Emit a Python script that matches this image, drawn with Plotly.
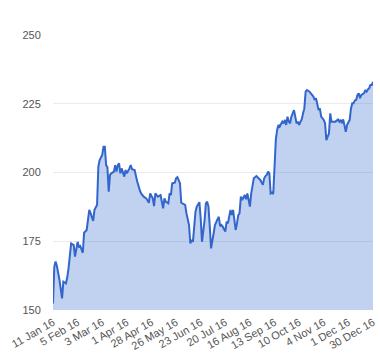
import plotly.graph_objects as go

# trading-day index of each sampled point (0 = 11 Jan 16, 247 = 30 Dec 16)
day = [0, 1, 2, 3, 5, 7, 8, 10, 11, 12, 14, 16, 17, 19, 20, 21, 23, 24, 26, 28,
       29, 31, 32, 34, 35, 36, 38, 39, 40, 41, 42, 43, 44, 45, 47, 48, 49, 50, 51, 52,
       53, 55, 56, 57, 59, 60, 61, 63, 65, 66, 67, 68, 70, 72, 73, 74, 75, 77, 78, 79,
       80, 81, 83, 84, 85, 86, 87, 89, 90, 91, 92, 94, 95, 96, 98, 99, 100, 102, 103, 105,
       106, 107, 108, 109, 110, 111, 113, 114, 115, 117, 118, 119, 120, 121, 122, 124, 125, 127, 128, 129,
       130, 131, 133, 134, 135, 137, 138, 139, 140, 141, 142, 143, 144, 145, 146, 148, 149, 150, 151, 152,
       153, 154, 155, 157, 158, 160, 162, 163, 164, 165, 166, 167, 168, 169, 170, 171, 172, 173, 174, 175,
       177, 178, 179, 180, 181, 182, 183, 184, 186, 187, 188, 189, 190, 191, 192, 193, 194, 195, 196, 198,
       199, 201, 202, 203, 205, 206, 207, 209, 210, 211, 212, 213, 214, 215, 217, 218, 220, 221, 222, 223,
       224, 225, 226, 227, 228, 229, 230, 231, 232, 233, 234, 235, 236, 237, 238, 240, 241, 242, 243, 244,
       245, 246, 247]

price = [152.4, 165.7, 167.6, 166.0, 160.9, 154.2, 160.3, 159.7, 161.9, 165.2, 174.2, 173.6, 169.4, 174.8, 173.0, 173.3, 170.8, 178.1, 179.1, 186.4,
         185.2, 182.4, 186.4, 188.2, 202.1, 204.5, 206.4, 209.4, 209.4, 202.7, 201.9, 193.0, 199.1, 199.7, 200.3, 202.7, 200.3, 202.7, 203.3, 199.7,
         201.5, 198.5, 200.9, 199.7, 201.5, 202.7, 201.2, 200.9, 196.7, 194.8, 193.6, 192.4, 191.2, 190.6, 190.0, 189.0, 192.4, 190.6, 187.8, 192.4,
         191.8, 191.2, 191.8, 189.4, 187.0, 190.6, 189.4, 188.8, 192.4, 191.8, 196.1, 196.3, 197.9, 198.3, 196.1, 189.0, 188.8, 188.2, 185.2, 180.9,
         174.2, 175.5, 174.8, 179.1, 185.8, 187.6, 189.2, 183.3, 174.8, 182.7, 188.8, 189.4, 187.6, 180.3, 172.4, 177.9, 180.9, 183.0, 183.9, 180.5,
         180.9, 180.3, 178.5, 182.1, 181.5, 186.4, 184.5, 186.4, 181.5, 179.1, 181.5, 184.5, 185.2, 191.2, 190.0, 191.8, 190.3, 192.4, 190.0, 187.6,
         192.4, 195.5, 197.9, 198.7, 198.3, 197.3, 195.5, 197.9, 198.7, 199.1, 200.3, 199.7, 192.4, 192.7, 192.2, 206.0, 212.0, 215.5, 217.3, 216.7,
         218.5, 217.9, 219.1, 217.3, 220.3, 218.5, 217.9, 220.3, 222.7, 220.3, 217.9, 218.5, 217.3, 218.5, 219.3, 221.5, 223.3, 229.4, 230.0, 229.4,
         228.8, 227.6, 226.4, 227.0, 222.7, 223.3, 220.3, 219.1, 217.9, 211.8, 213.0, 214.2, 221.5, 218.5, 218.5, 218.5, 219.3, 218.5, 219.1, 217.9,
         219.3, 217.3, 214.8, 217.3, 218.5, 219.1, 223.3, 225.2, 225.2, 226.2, 226.4, 228.2, 228.8, 227.0, 228.2, 228.8, 229.8, 229.4, 230.2, 230.6,
         231.8, 231.8, 233.0]

tick_labels = ["11 Jan 16", "5 Feb 16", "3 Mar 16", "1 Apr 16", "28 Apr 16", "26 May 16",
               "23 Jun 16", "20 Jul 16", "16 Aug 16", "13 Sep 16", "10 Oct 16", "4 Nov 16",
               "1 Dec 16", "30 Dec 16"]
tick_step = 19
y_ticks = [150, 175, 200, 225, 250]

fig = go.Figure()
fig.add_trace(go.Scatter(
    x=day, y=price, mode="lines",
    line=dict(color="#3366cc", width=2),
    fill="tozeroy", fillcolor="rgba(51,102,204,0.3)",
    hoverinfo="skip",
))

fig.update_layout(
    width=380, height=360,
    margin=dict(l=53, r=7, t=35, b=50),
    paper_bgcolor="white", plot_bgcolor="white",
    showlegend=False,
    font=dict(family="Liberation Sans, Arial, sans-serif", size=11, color="#555555"),
)
fig.update_xaxes(
    range=[0, tick_step * (len(tick_labels) - 1)],
    tickvals=[i * tick_step for i in range(len(tick_labels))],
    ticktext=tick_labels,
    tickangle=-30,
    showgrid=False, zeroline=False, showline=False,
    ticks="outside", ticklen=1, tickcolor="rgba(0,0,0,0)",
    automargin=False,
)
fig.update_yaxes(
    range=[150, 250],
    tickvals=y_ticks,
    showgrid=True, gridcolor="#ebebeb", gridwidth=1,
    zeroline=False, showline=False,
    ticks="outside", ticklen=9, tickcolor="rgba(0,0,0,0)",
    automargin=False,
)

fig.write_html("out.html", config={"displayModeBar": False, "staticPlot": True},
               post_script="document.body.style.margin='0';document.body.style.overflow='hidden';")
